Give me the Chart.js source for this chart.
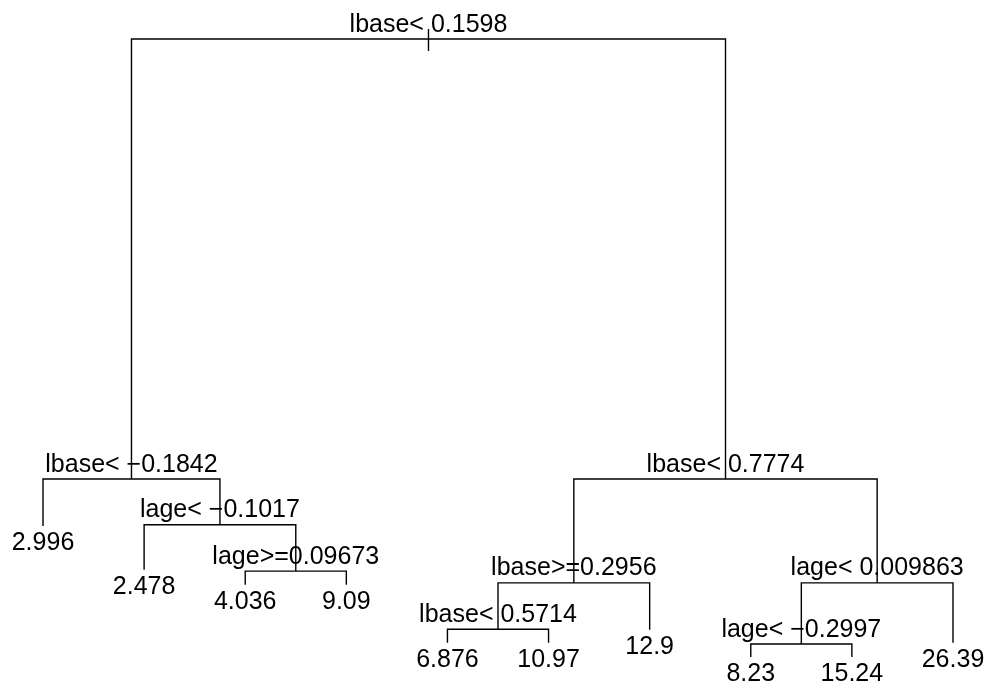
<!DOCTYPE html>
<html>
<head>
<meta charset="utf-8">
<title>lbase regression tree</title>
<script src="https://cdn.jsdelivr.net/npm/chart.js@4"></script>
<style>
  body { margin: 0; background: #fff; }
  #box { width: 995px; height: 690px; }
</style>
</head>
<body>
<div id="box"><canvas id="treeChart" width="995" height="690"></canvas></div>
<script>
// leaves, left to right, with their fitted values and heights
var leafValues = ['2.996', '2.478', '4.036', '9.09', '6.876', '10.97', '12.9', '8.23', '15.24', '26.39'];
var leafHeights = [0.212, 0.141, 0.117, 0.117, 0.023, 0.023, 0.044, 0, 0, 0.023];

// splits: label, height, and the two children ("S" = split, "L" = leaf)
var splitLabels = ['lbase< 0.1598', 'lbase< \u22120.1842', 'lage< \u22120.1017', 'lage>=0.09673',
                   'lbase< 0.7774', 'lbase>=0.2956', 'lbase< 0.5714', 'lage< 0.009863', 'lage< \u22120.2997'];
var splitHeights = [1, 0.288, 0.214, 0.139, 0.288, 0.12, 0.045, 0.12, 0.021];
var splitLeft = ['S1', 'L0', 'L1', 'L2', 'S5', 'S6', 'L4', 'S8', 'L7'];
var splitRight = ['S4', 'S2', 'S3', 'L3', 'S7', 'L6', 'L5', 'L9', 'L8'];

function nodePos(id) {
    var i = +id.slice(1);
    if (id[0] == 'L') return { x: i + 1, y: leafHeights[i] };
    var l = nodePos(splitLeft[i]);
    var r = nodePos(splitRight[i]);
    return { x: (l.x + r.x) / 2, y: splitHeights[i] };
}

// one polyline per split: down-left child, across, down-right child
var datasets = splitLabels.map(function (lab, i) {
    var l = nodePos(splitLeft[i]);
    var r = nodePos(splitRight[i]);
    var h = splitHeights[i];
    return {
        label: lab,
        data: [{ x: l.x, y: l.y }, { x: l.x, y: h }, { x: r.x, y: h }, { x: r.x, y: r.y }],
        showLine: true,
        borderColor: '#000',
        borderWidth: 1.4,
        pointRadius: 0,
        tension: 0,
        clip: false
    };
});

var treeText = {
    id: 'treeText',
    afterDatasetsDraw: function (chart) {
        var ctx = chart.ctx;
        var xs = chart.scales.x, ys = chart.scales.y;
        ctx.save();
        ctx.fillStyle = '#000';
        ctx.font = '25px "Liberation Sans", Arial, sans-serif';
        ctx.textAlign = 'center';
        ctx.textBaseline = 'alphabetic';

        splitLabels.forEach(function (lab, i) {
            var p = nodePos('S' + i);
            ctx.fillText(lab, xs.getPixelForValue(p.x), ys.getPixelForValue(p.y) - 7.5);
        });
        leafValues.forEach(function (v, i) {
            var p = nodePos('L' + i);
            ctx.fillText(v, xs.getPixelForValue(p.x), ys.getPixelForValue(p.y) + 24);
        });

        // small stem through the root
        var root = nodePos('S0');
        var rx = xs.getPixelForValue(root.x), ry = ys.getPixelForValue(root.y);
        ctx.strokeStyle = '#000';
        ctx.lineWidth = 1.4;
        ctx.beginPath();
        ctx.moveTo(rx, ry - 10);
        ctx.lineTo(rx, ry + 12);
        ctx.stroke();
        ctx.restore();
    }
};

new Chart(document.getElementById('treeChart'), {
    type: 'scatter',
    data: { datasets: datasets },
    options: {
        responsive: false,
        animation: false,
        devicePixelRatio: 1,
        layout: { padding: { left: 43, right: 42, top: 39, bottom: 33 } },
        plugins: { legend: { display: false }, tooltip: { enabled: false } },
        scales: {
            x: { type: 'linear', min: 1, max: 10, display: false },
            y: { type: 'linear', min: 0, max: 1, display: false }
        }
    },
    plugins: [treeText]
});
</script>
</body>
</html>
